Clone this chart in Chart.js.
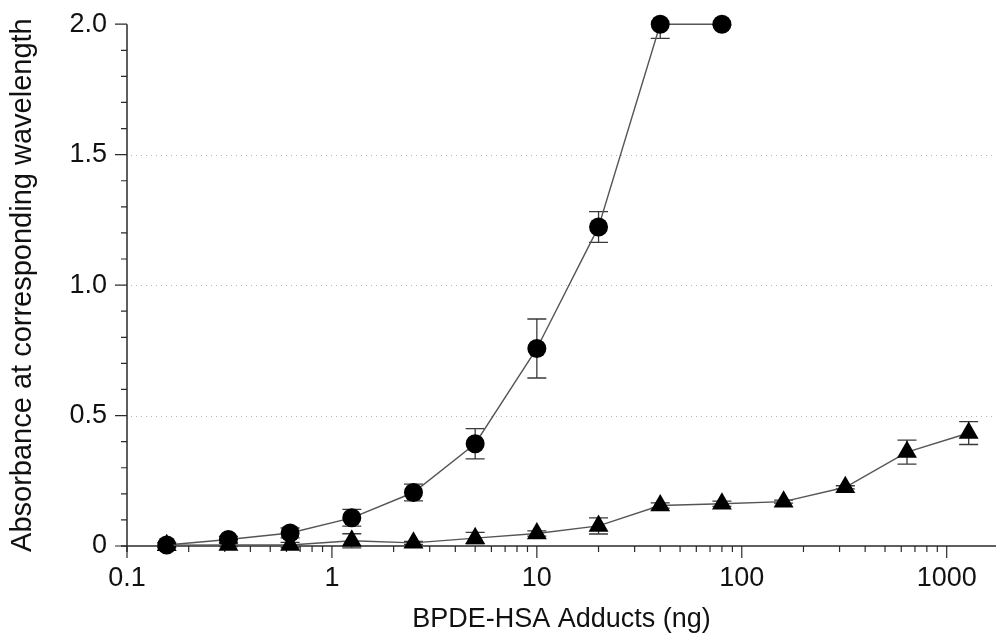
<!DOCTYPE html>
<html>
<head>
<meta charset="utf-8">
<script src="https://cdn.jsdelivr.net/npm/chart.js@4.4.1/dist/chart.umd.min.js"></script>
<style>
  html, body { margin: 0; padding: 0; background: #fff; }
  #wrap { width: 998px; height: 637px; }
</style>
</head>
<body>
<div id="wrap"><canvas id="myChart" width="998" height="637"></canvas></div>
<script>
// two-fold dilution series of adduct amount (ng)
const amounts = [0.15625, 0.3125, 0.625, 1.25, 2.5, 5, 10, 20, 40, 80, 160, 320, 640, 1280]

// circles: first 10 dilutions
const circleMeans = [0.004, 0.025, 0.05, 0.108, 0.205, 0.392, 0.757, 1.223, 2.0, 2.0]
const circleErrors = [0.008, 0.012, 0.019, 0.032, 0.032, 0.058, 0.113, 0.059, 0.054, 0.004]

// triangles: all 14 dilutions
const triangleMeans = [0.003, 0.004, 0.004, 0.02, 0.012, 0.03, 0.048, 0.077, 0.155, 0.162, 0.17, 0.225, 0.36, 0.433]
const triangleErrors = [0.01, 0.006, 0.01, 0.027, 0.006, 0.022, 0.01, 0.031, 0.01, 0.01, 0.006, 0.006, 0.046, 0.044]

const xMajorTicks = [0.1, 1, 10, 100, 1000]
const yMajorTicks = [0, 0.5, 1, 1.5, 2]
const yGridLines = [0.5, 1, 1.5]

const FONT = '"Liberation Sans", Arial, Helvetica, sans-serif'
const AXIS_COLOR = '#2b2b2b'

const toPoints = (means) => means.map((v, i) => ({ x: amounts[i], y: v }))

const isMajorX = (v) => xMajorTicks.some((m) => Math.abs(v - m) < m * 1e-6)
const isMajorY = (v) => yMajorTicks.some((m) => Math.abs(v - m) < 1e-6)

// minor tick values for the log axis: 2..9 x each decade
const xMinorTicks = []
xMajorTicks.forEach((m) => {
  for (let k = 2; k <= 9; k += 1) xMinorTicks.push(m * k)
})

// axes, ticks, dotted gridlines and error bars drawn Prism-style
const prismAxes = {
  id: 'prismAxes',
  beforeDatasetsDraw(chart) {
    const { ctx, chartArea: a, scales: { x, y } } = chart
    ctx.save()

    ctx.strokeStyle = '#b5b5b5'
    ctx.lineWidth = 1
    ctx.setLineDash([1, 4])
    yGridLines.forEach((v) => {
      const py = Math.round(y.getPixelForValue(v)) + 0.5
      ctx.beginPath()
      ctx.moveTo(a.left + 4, py)
      ctx.lineTo(a.right, py)
      ctx.stroke()
    })
    ctx.setLineDash([])

    ctx.strokeStyle = AXIS_COLOR
    ctx.lineWidth = 1.5
    const y0 = y.getPixelForValue(0)
    ctx.beginPath()
    ctx.moveTo(a.left, y.getPixelForValue(2))
    ctx.lineTo(a.left, y0 + 6)
    ctx.moveTo(a.left - 6, y0)
    ctx.lineTo(a.right, y0)
    ctx.stroke()

    ctx.lineWidth = 1.2
    ctx.beginPath()
    for (let v = 0; v <= 2.0001; v += 0.1) {
      const py = y.getPixelForValue(v)
      const len = isMajorY(v) ? 12 : 6
      ctx.moveTo(a.left - len, py)
      ctx.lineTo(a.left, py)
    }
    xMajorTicks.concat(xMinorTicks).forEach((v) => {
      if (v < x.min || v > x.max) return
      const px = x.getPixelForValue(v)
      const len = isMajorX(v) ? 12 : 6
      ctx.moveTo(px, y0)
      ctx.lineTo(px, y0 + len)
    })
    ctx.stroke()

    // error bars, clipped at the top of the plot
    ctx.beginPath()
    ctx.rect(0, a.top, chart.width, chart.height - a.top)
    ctx.clip()
    ctx.strokeStyle = '#3a3a3a'
    ctx.lineWidth = 1.3
    const drawErrors = (means, errors) => {
      means.forEach((m, i) => {
        const px = x.getPixelForValue(amounts[i])
        const top = y.getPixelForValue(m + errors[i])
        const bot = y.getPixelForValue(m - errors[i])
        ctx.beginPath()
        ctx.moveTo(px, top)
        ctx.lineTo(px, bot)
        ctx.moveTo(px - 9.5, top)
        ctx.lineTo(px + 9.5, top)
        ctx.moveTo(px - 9.5, bot)
        ctx.lineTo(px + 9.5, bot)
        ctx.stroke()
      })
    }
    drawErrors(circleMeans, circleErrors)
    drawErrors(triangleMeans, triangleErrors)
    ctx.restore()
  },
}

const lineStyle = {
  showLine: true,
  borderColor: '#555',
  borderWidth: 1.4,
  backgroundColor: '#000',
  pointBackgroundColor: '#000',
  pointBorderColor: '#000',
  pointBorderWidth: 0,
  pointHoverRadius: 0,
  tension: 0,
  clip: false,
}

const ctx = document.getElementById('myChart').getContext('2d')
const myChart = new Chart(ctx, {
  type: 'line',
  data: {
    datasets: [
      {
        ...lineStyle,
        label: 'Triangles',
        data: toPoints(triangleMeans),
        pointStyle: 'triangle',
        pointRadius: 11.5,
      },
      {
        ...lineStyle,
        label: 'Circles',
        data: toPoints(circleMeans),
        pointStyle: 'circle',
        pointRadius: 9.5,
      },
    ],
  },
  options: {
    responsive: false,
    animation: false,
    layout: { autoPadding: false, padding: { top: 24, right: 2, left: 0, bottom: 0 } },
    plugins: {
      legend: { display: false },
      tooltip: { enabled: false },
    },
    scales: {
      x: {
        type: 'logarithmic',
        min: 0.1,
        max: 1740,
        afterFit: (scale) => {
          scale.height = 91
          scale.paddingLeft = 0
          scale.paddingRight = 0
        },
        grid: {
          display: true, drawOnChartArea: false, drawTicks: true, tickLength: 12, color: 'transparent',
        },
        border: { display: false },
        ticks: {
          autoSkip: false,
          maxRotation: 0,
          padding: 4,
          color: '#111',
          font: { family: FONT, size: 27 },
          callback: (value) => (isMajorX(value) ? String(value) : ''),
        },
        title: {
          display: true,
          text: 'BPDE-HSA Adducts (ng)',
          color: '#111',
          font: { family: FONT, size: 27 },
          padding: { top: 0, bottom: 1 },
        },
      },
      y: {
        min: 0,
        max: 2,
        afterFit: (scale) => { scale.width = 127 },
        grid: {
          display: true, drawOnChartArea: false, drawTicks: true, tickLength: 12, color: 'transparent',
        },
        border: { display: false },
        ticks: {
          stepSize: 0.1,
          autoSkip: false,
          padding: 8,
          color: '#111',
          font: { family: FONT, size: 27 },
          callback: (value) => {
            if (!isMajorY(value)) return ''
            return value === 0 ? '0' : value.toFixed(1)
          },
        },
        title: {
          display: true,
          text: 'Absorbance at corresponding wavelength',
          color: '#111',
          font: { family: FONT, size: 29 },
          padding: { top: 6, bottom: 0 },
        },
      },
    },
  },
  plugins: [prismAxes],
})
</script>
</body>
</html>
